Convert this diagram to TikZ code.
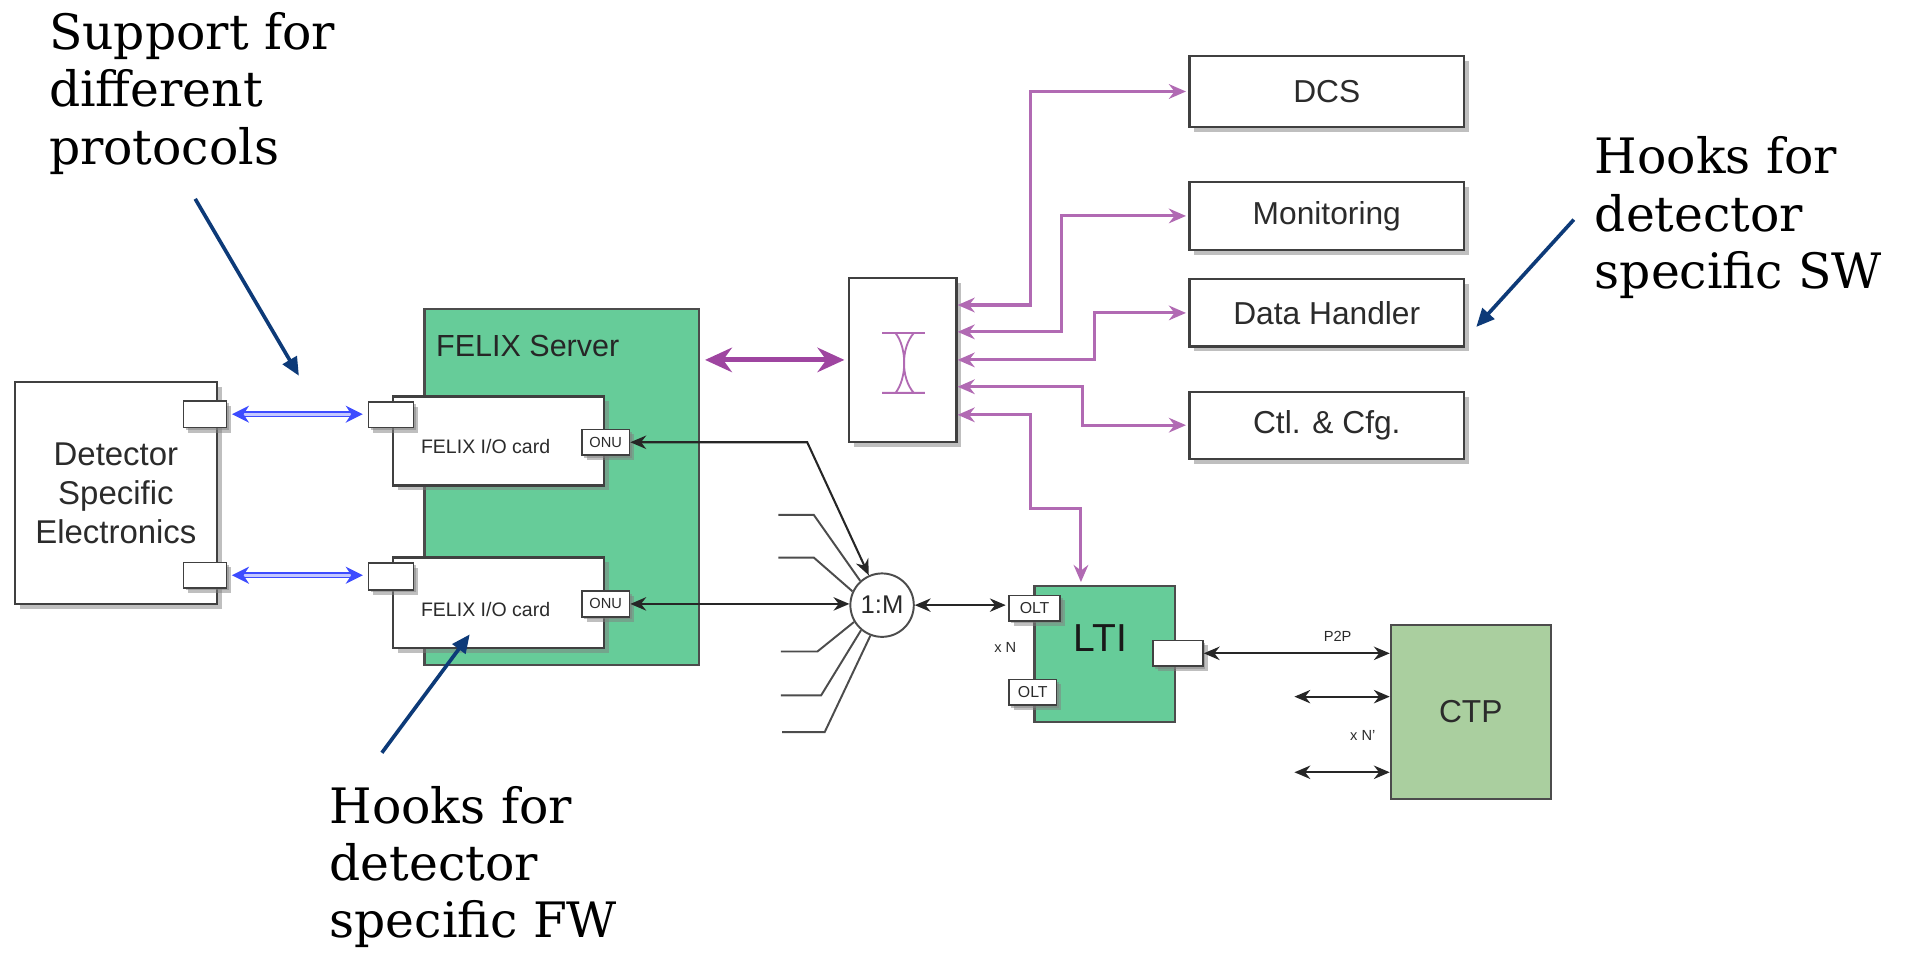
\documentclass[tikz,border=0pt]{standalone}
\usepackage{fontspec}
\setmainfont{Liberation Sans}
\newfontfamily\notefont{DejaVu Serif}
\usetikzlibrary{arrows.meta,shadows,calc}
\definecolor{fxgreen}{HTML}{66CC99}
\definecolor{ctpgreen}{HTML}{AACF9F}
\definecolor{fxpurple}{HTML}{9E45A0}
\definecolor{fxnavy}{HTML}{0D3A78}
\definecolor{fxblue}{HTML}{3D4CFF}
\definecolor{fxtext}{HTML}{2B2B2B}
\newcommand{\fsz}[2]{\fontsize{#1}{#2}\selectfont}

\begin{document}
\begin{tikzpicture}[x=1pt,y=-1pt,
  box/.style={draw=black!75,line width=1.8pt,fill=white,text=fxtext,inner sep=0pt,
    drop shadow={shadow xshift=4pt,shadow yshift=-4pt,fill=black!50},font=\fsz{26}{30}},
  port/.style={box,line width=1.3pt,font=\fsz{12}{13},
    drop shadow={shadow xshift=2pt,shadow yshift=-2pt,fill=black!50}},
  grn/.style={draw=black!70,line width=1.8pt,fill=fxgreen,inner sep=0pt},
  parr/.style={{Stealth[length=14pt,width=12pt]}-{Stealth[length=14pt,width=12pt]},
    line width=2.5pt,fxpurple!80,shorten >=2pt},
  bigp/.style={{Stealth[length=22pt,width=20pt]}-{Stealth[length=22pt,width=20pt]},
    line width=4pt,fxpurple,shorten <=4pt,shorten >=3pt},
  karr/.style={{Stealth[length=13pt,width=11pt]}-{Stealth[length=13pt,width=11pt]},
    line width=1.7pt,black!85},
  barr/.style={{Stealth[length=14pt,width=14pt]}-{Stealth[length=14pt,width=14pt]},
    fxblue,double=fxblue!30,double distance=2.5pt,line width=1.2pt,shorten <=4pt,shorten >=4pt},
  fan/.style={line width=1.6pt,black!70},
  note/.style={font=\notefont\fsz{40}{47},align=left,anchor=north west,inner sep=0pt},
  narr/.style={-{Triangle[length=15pt,width=13pt]},line width=3pt,fxnavy},
  tiny/.style={font=\fsz{12}{13},text=fxtext,inner sep=1pt}]
  \useasboundingbox (0,0) rectangle (1568,784);

  \node[note] (sup) at (40,10) {Support for\\different\\protocols};
  \node[note] (hsw) at (1307,112) {Hooks for\\detector\\specific SW};
  \node[note] (hfw) at (270,644) {Hooks for\\detector\\specific FW};

  \node[box,minimum width=166pt,minimum height=182pt,align=center,font=\fsz{27}{32}] (det)
    at (95,404) {Detector\\Specific\\Electronics};
  \node[port,minimum width=35pt,minimum height=22pt] (dp1) at (168,339.5) {};
  \node[port,minimum width=35pt,minimum height=21pt] (dp2) at (168,471.5) {};

  \node[grn,minimum width=225pt,minimum height=292pt] (srv) at (460.5,399) {};
  \node[anchor=west,font=\fsz{25}{30},text=black!85] (srvlbl) at (354,284) {FELIX Server};
  \node[box,minimum width=173pt,minimum height=73pt] (card1) at (408.5,361.5) {};
  \node[box,minimum width=173pt,minimum height=74pt] (card2) at (408.5,494) {};
  \node[font=\fsz{16}{18},text=fxtext] (io1) at (398,366) {FELIX I/O card};
  \node[font=\fsz{16}{18},text=fxtext] (io2) at (398,500) {FELIX I/O card};
  \node[port,minimum width=37pt,minimum height=21pt] (cp1) at (320.5,340) {};
  \node[port,minimum width=37pt,minimum height=22pt] (cp2) at (320.5,472.5) {};
  \node[port,minimum width=39pt,minimum height=21pt] (onu1) at (496.5,362.5) {ONU};
  \node[port,minimum width=39pt,minimum height=21pt] (onu2) at (496.5,495) {ONU};

  \node[box,minimum width=88pt,minimum height=134pt] (sw) at (740,295) {};
  \draw[fxpurple!80,line width=1.5pt,shift={(sw.center)}]
    (-17,-22) -- (18,-22) (-17,27) -- (18,27)
    (-6,-22) .. controls (3.5,-10) and (3.5,15) .. (-6,27)
    (9,-22) .. controls (-1.7,-10) and (-1.7,15) .. (9,27);

  \node[box,minimum width=225pt,minimum height=58pt] (dcs) at (1087.5,75) {DCS};
  \node[box,minimum width=225pt,minimum height=56pt] (mon) at (1087.5,177) {Monitoring};
  \node[box,minimum width=225pt,minimum height=55pt] (dh) at (1087.5,256.5) {Data Handler};
  \node[box,minimum width=225pt,minimum height=55pt] (ctl) at (1087.5,348.5) {Ctl. \& Cfg.};

  \node[circle,draw=black!70,line width=1.6pt,fill=white,minimum size=52pt,inner sep=0pt,
    font=\fsz{21}{24},text=fxtext] (mux) at (723,496) {1:M};

  \node[grn,minimum width=115pt,minimum height=112pt] (lti) at (905.5,536) {};
  \node[font=\fsz{32}{34},text=black!90] (ltilbl) at (902,523) {LTI};
  \node[port,minimum width=42pt,minimum height=21pt,font=\fsz{13}{14}] (olt1) at (848,498.5) {OLT};
  \node[port,minimum width=39pt,minimum height=21pt,font=\fsz{13}{14}] (olt2) at (846.5,567.5) {OLT};
  \node[port,minimum width=41pt,minimum height=21pt] (ltip) at (965.5,535.5) {};
  \node[tiny] (xn) at (824,531) {x N};

  \node[grn,fill=ctpgreen,minimum width=131pt,minimum height=143pt,font=\fsz{26}{30},
    text=fxtext] (ctp) at (1205.5,583.5) {CTP};
  \node[tiny] (xn2) at (1117,603) {x N'};

  \draw[barr] (dp1.east) -- (dp1.east -| cp1.west);
  \draw[barr] (dp2.east) -- (dp2.east -| cp2.west);
  \draw[bigp] (srv.east |- sw.west) -- (sw.west);

  \foreach \i/\dy in {1/-45,2/-23,3/0,4/22,5/45}
    \coordinate (s\i) at ($(sw.east)+(0,\dy)$);
  \draw[parr] (s1) -- ++(60,0) |- (dcs.west);
  \draw[parr] (s2) -- ++(85,0) |- (mon.west);
  \draw[parr] (s3) -- ++(112,0) |- (dh.west);
  \draw[parr] (s4) -- ++(102,0) |- (ctl.west);
  \draw[parr] (s5) -- ++(60,0) -- ++(0,77) -| ([xshift=-19.5pt]lti.north);

  \draw[karr] (onu1.east) -- ++(145,0) -- (mux.114);
  \draw[karr] (onu2.east) -- (onu2.east -| mux.west);
  \coordinate (f1) at (638,422);
  \coordinate (f2) at (638,457);
  \coordinate (f3) at (640,534);
  \coordinate (f4) at (640,570);
  \coordinate (f5) at (641,600);
  \draw[fan] (f1) -- ++(29,0) -- (mux.132);
  \draw[fan] (f2) -- ++(29,0) -- (mux.155);
  \draw[fan] (f3) -- ++(30,0) -- (mux.211);
  \draw[fan] (f4) -- ++(33,0) -- (mux.230);
  \draw[fan] (f5) -- ++(35,0) -- (mux.249);
  \draw[karr,shorten >=2pt] (mux.east) -- (mux.east -| olt1.west);

  \draw[karr] (ltip.east) -- (ltip.east -| ctp.west)
    node[tiny,pos=0.72,above=8pt] (p2p) {P2P};
  \coordinate (c1) at (1061,571);
  \coordinate (c2) at (1061,633);
  \draw[karr] (c1) -- (c1 -| ctp.west);
  \draw[karr] (c2) -- (c2 -| ctp.west);

  \coordinate (a1) at (160,163);
  \coordinate (a1e) at (245,308);
  \coordinate (a2) at (1290,180);
  \coordinate (a2e) at (1210,268);
  \coordinate (a3) at (313,617);
  \coordinate (a3e) at (385,520);
  \draw[narr] (a1) -- (a1e);
  \draw[narr] (a2) -- (a2e);
  \draw[narr] (a3) -- (a3e);
\end{tikzpicture}
\end{document}
